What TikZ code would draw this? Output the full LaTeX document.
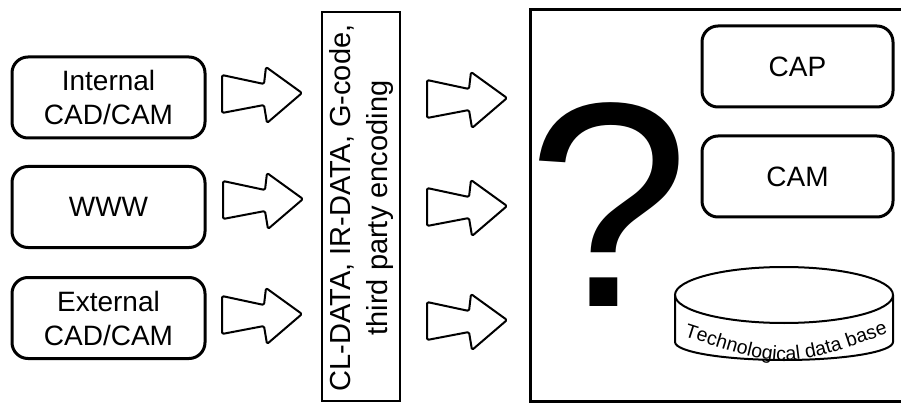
\documentclass[tikz,border=0pt]{standalone}
\usepackage{fontspec}
\setmainfont{Liberation Sans}
\usetikzlibrary{decorations.text}
\tikzset{
  srcbox/.style={draw, line width=3pt, rounded corners=16pt, minimum width=193pt, minimum height=81pt, align=center, inner sep=0pt, font=\fontsize{28}{34}\selectfont},
  blockarrow/.pic={\draw[line width=2pt, rounded corners=1.5pt, line join=round]
     (0,-19) -- (42,-10) -- (44,-27) -- (80,-1) -- (45,29) -- (42,11) -- (0,19) -- cycle;}
}
\begin{document}
\begin{tikzpicture}[x=1pt, y=-1pt]
\useasboundingbox (0,0) rectangle (901,403);
% left source boxes
\node[srcbox] (internal) at (108.5,97.5) {Internal\\CAD/CAM};
\node[srcbox] (www) at (108.5,207) {WWW};
\node[srcbox] (external) at (108.5,318) {External\\CAD/CAM};
% left arrows
\pic at (222,94) {blockarrow};
\pic at (223,200) {blockarrow};
\pic at (222,315) {blockarrow};
% encoding box
\draw[line width=2.5pt] (322,12) rectangle (400,401);
\node[rotate=90, align=center, font=\fontsize{29}{37}\selectfont] (enc) at (361,208) {CL-DATA, IR-DATA, G-code,\\third party encoding};
% middle arrows
\pic at (427,99) {blockarrow};
\pic at (427,207) {blockarrow};
\pic at (427,321) {blockarrow};
% big box
\draw[line width=3pt] (530,10) rectangle (903,401);
\node[anchor=base, font=\fontsize{292}{292}\selectfont, inner sep=0pt] (qm) at (609,306) {?};
\node[srcbox, minimum width=191pt] (cap) at (797.5,66.5) {CAP};
\node[srcbox, minimum width=191pt] (cam) at (797.5,176.5) {CAM};
% database cylinder
\draw[line width=2pt] (784,295) ellipse [x radius=109, y radius=28];
\draw[line width=2pt] (675,295) -- (675,342) arc[start angle=180, end angle=0, x radius=109, y radius=18] -- (893,295);
\coordinate (db) at (784,320);
\path[decorate, decoration={text along path, text={|\fontsize{19.5}{19.5}\selectfont|Technological data base}, text align=center}]
  (686,337) .. controls (786,369) .. (886,334);
\end{tikzpicture}
\end{document}
